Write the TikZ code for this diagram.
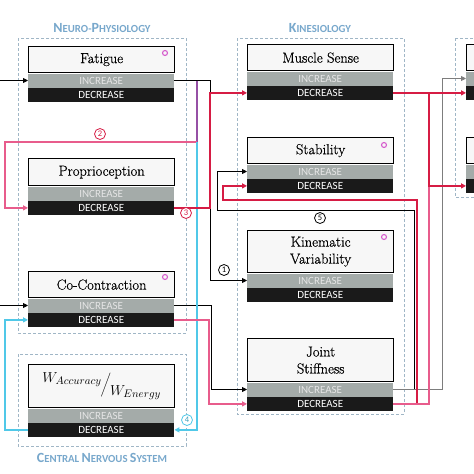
\documentclass[tikz,border=0pt]{standalone}
\usepackage{fontspec}
\usetikzlibrary{arrows.meta,calc}
\newfontfamily\labfont{Carlito}
\newfontfamily\titfont[FakeBold=0.6]{Latin Modern Roman}
\definecolor{cyanline}{RGB}{80,200,232}
\definecolor{pinkline}{RGB}{232,92,140}
\definecolor{redline}{RGB}{214,28,68}
\definecolor{purpline}{RGB}{150,80,165}
\definecolor{grouptext}{RGB}{120,168,204}
\definecolor{groupdash}{RGB}{160,182,198}
\definecolor{incfill}{RGB}{164,171,169}
\definecolor{decfill}{RGB}{26,26,26}
\definecolor{titlefill}{RGB}{247,247,247}
\definecolor{ringcol}{RGB}{214,96,206}
\definecolor{linegray}{RGB}{125,125,125}
\newcommand\capA[1]{{\fontsize{14}{14}\selectfont #1}}
\newcommand\capB[1]{{\fontsize{10.8}{14}\selectfont #1}}
\tikzset{
  titlebox/.style={draw=black, line width=1.3pt, fill=titlefill, minimum width=146pt,
    inner sep=0pt, align=center, font=\titfont\fontsize{14.5}{17}\selectfont, anchor=north west},
  incbar/.style={fill=incfill, minimum width=146pt, minimum height=14pt, inner sep=0pt,
    text=white!90!black, font=\labfont\fontsize{11}{11}\selectfont, anchor=north west},
  decbar/.style={incbar, fill=decfill, text=white},
  grp/.style={draw=groupdash, dash pattern=on 3pt off 2pt, line width=0.8pt},
  grplabel/.style={text=grouptext, font=\labfont\bfseries, inner sep=0pt},
  blk/.style={draw=black, line width=0.8pt},
  gry/.style={draw=linegray, line width=0.8pt},
  pnk/.style={draw=pinkline, line width=1.7pt},
  rd/.style={draw=redline, line width=1.7pt},
  cyn/.style={draw=cyanline, line width=1.8pt},
  purp/.style={draw=purpline, line width=1.6pt},
  tip/.style={-{Triangle[length=5pt,width=5pt]}},
  num/.style={circle, line width=0.8pt, minimum size=11pt, inner sep=0pt,
    font=\labfont\fontsize{8.5}{8.5}\selectfont},
  ring/.style={circle, draw=ringcol, line width=1.1pt, minimum size=5pt, inner sep=0pt}
}
\newcommand\kbox[5]{%
  \node[titlebox, minimum height=#4] (#1) at (#2,#3) {#5};
  \node[incbar] (#1i) at (#1.south west) {INCREASE};
  \node[decbar] (#1d) at (#1i.south west) {DECREASE};
}
\newcommand\ebox[4]{%
  \node[titlebox, minimum height=#4] (#1) at (#2,#3) {};
  \node[incbar] (#1i) at (#1.south west) {};
  \node[decbar] (#1d) at (#1i.south west) {};
}
\begin{document}
\begin{tikzpicture}[x=1pt,y=-1pt]
\useasboundingbox (0,0) rectangle (474,474);
\clip (0,0) rectangle (474,474);
\fill[white] (0,0) rectangle (474,474);

% groups
\draw[grp] (18,38) rectangle (186,333);
\draw[grp] (18,354) rectangle (186,446);
\draw[grp] (237,38) rectangle (404,414);
\draw[grp] (455,38) rectangle (640,197);
\node[grplabel] (gNP) at (102,28) {\capA{N}\capB{EURO-}\capA{P}\capB{HYSIOLOGY}};
\node[grplabel] (gKI) at (320,28) {\capA{K}\capB{INESIOLOGY}};
\node[grplabel] (gCN) at (102,458) {\capA{C}\capB{ENTRAL} \capA{N}\capB{ERVOUS} \capA{S}\capB{YSTEM}};

% boxes
\kbox{fat}{28}{46}{26pt}{Fatigue}
\kbox{pro}{28}{158}{27pt}{Proprioception}
\kbox{coc}{28}{271}{26pt}{Co-Contraction}
\kbox{w}{28}{364}{43pt}{\fontsize{15}{15}\selectfont\raisebox{6pt}{$W_{Accuracy}$}\kern-1pt$\bigg/$\kern-1pt\raisebox{-7pt}{$W_{Energy}$}}
\kbox{ms}{247}{44}{26pt}{Muscle Sense}
\kbox{sta}{247}{137}{26pt}{Stability}
\kbox{kv}{247}{230}{42pt}{Kinematic\\Variability}
\kbox{js}{247}{338}{43pt}{Joint\\Stiffness}
\ebox{ra}{466}{44}{26pt}
\ebox{rb}{466}{137}{26pt}

% rings
\node[ring] (rg1) at (165,53) {};
\node[ring] (rg2) at (165,277) {};
\node[ring] (rg3) at (384,145) {};
\node[ring] (rg4) at (384,237) {};

% helper coordinates
\coordinate (x0) at (0,0);
\coordinate (xA) at (210,0);
\coordinate (xAb) at (211,0);
\coordinate (xAp) at (209,0);
\coordinate (xP) at (197,0);
\coordinate (xL) at (5,0);
\coordinate (yTwo) at (0,142);
\coordinate (xS) at (217,0);
\coordinate (xSd) at (223,0);
\coordinate (yS) at (0,210);
\coordinate (ySd) at (0,200);
\coordinate (xR1) at (414,0);
\coordinate (xR2) at (417,0);
\coordinate (xR3) at (429,0);
\coordinate (xR4) at (442,0);

% black connectors
\draw[blk,tip] (x0 |- fati.west) -- (fati.west);
\draw[blk,tip] (x0 |- coci.west) -- (coci.west);
\draw[blk,tip] (fati.east) -| (xA |- kvi.west) -- (kvi.west);
\draw[blk,tip] (coci.east) -| (xAb |- jsi.west) -- (jsi.west);
\draw[blk,tip] (jsi.east) -| (xR1 |- yS) -| (xS |- stai.west) -- (stai.west);
\draw[gry,tip] (jsi.east) -| (xR4 |- rai.west) -- (rai.west);

% coloured connectors
\draw[purp] (xP |- fati.east) -- (xP |- yTwo);
\draw[pnk,tip] (xP |- yTwo) -| (xL |- prod.west) -- (prod.west);
\draw[cyn,tip] (xP |- yTwo) |- (wd.east);
\draw[cyn,tip] (wd.west) -| (xL |- cocd.west) -- (cocd.west);
\draw[rd,tip] (prod.east) -| (xA |- msd.west) -- (msd.west);
\draw[pnk,tip] (cocd.east) -| (xAp |- jsd.west) -- (jsd.west);
\draw[rd,tip] (jsd.east) -| (xR2 |- ySd) -| (xSd |- stad.west) -- (stad.west);
\draw[pnk] (jsd.east) -| (xR3 |- rbd.west);
\draw[rd,tip] (msd.east) -- (rad.west);
\draw[rd,tip] (xR3 |- msd.east) |- (rbd.west);

% circled numbers
\node[num, draw=black] (n1) at (224,270) {1};
\node[num, draw=redline, text=redline] (n2) at (100,134) {2};
\node[num, draw=redline, text=redline, fill=white] (n3) at (186,213) {3};
\node[num, draw=cyanline, text=cyanline!80!black, fill=white] (n4) at (187,420) {4};
\node[num, draw=black] (n5) at (320,218) {5};
\end{tikzpicture}
\end{document}
